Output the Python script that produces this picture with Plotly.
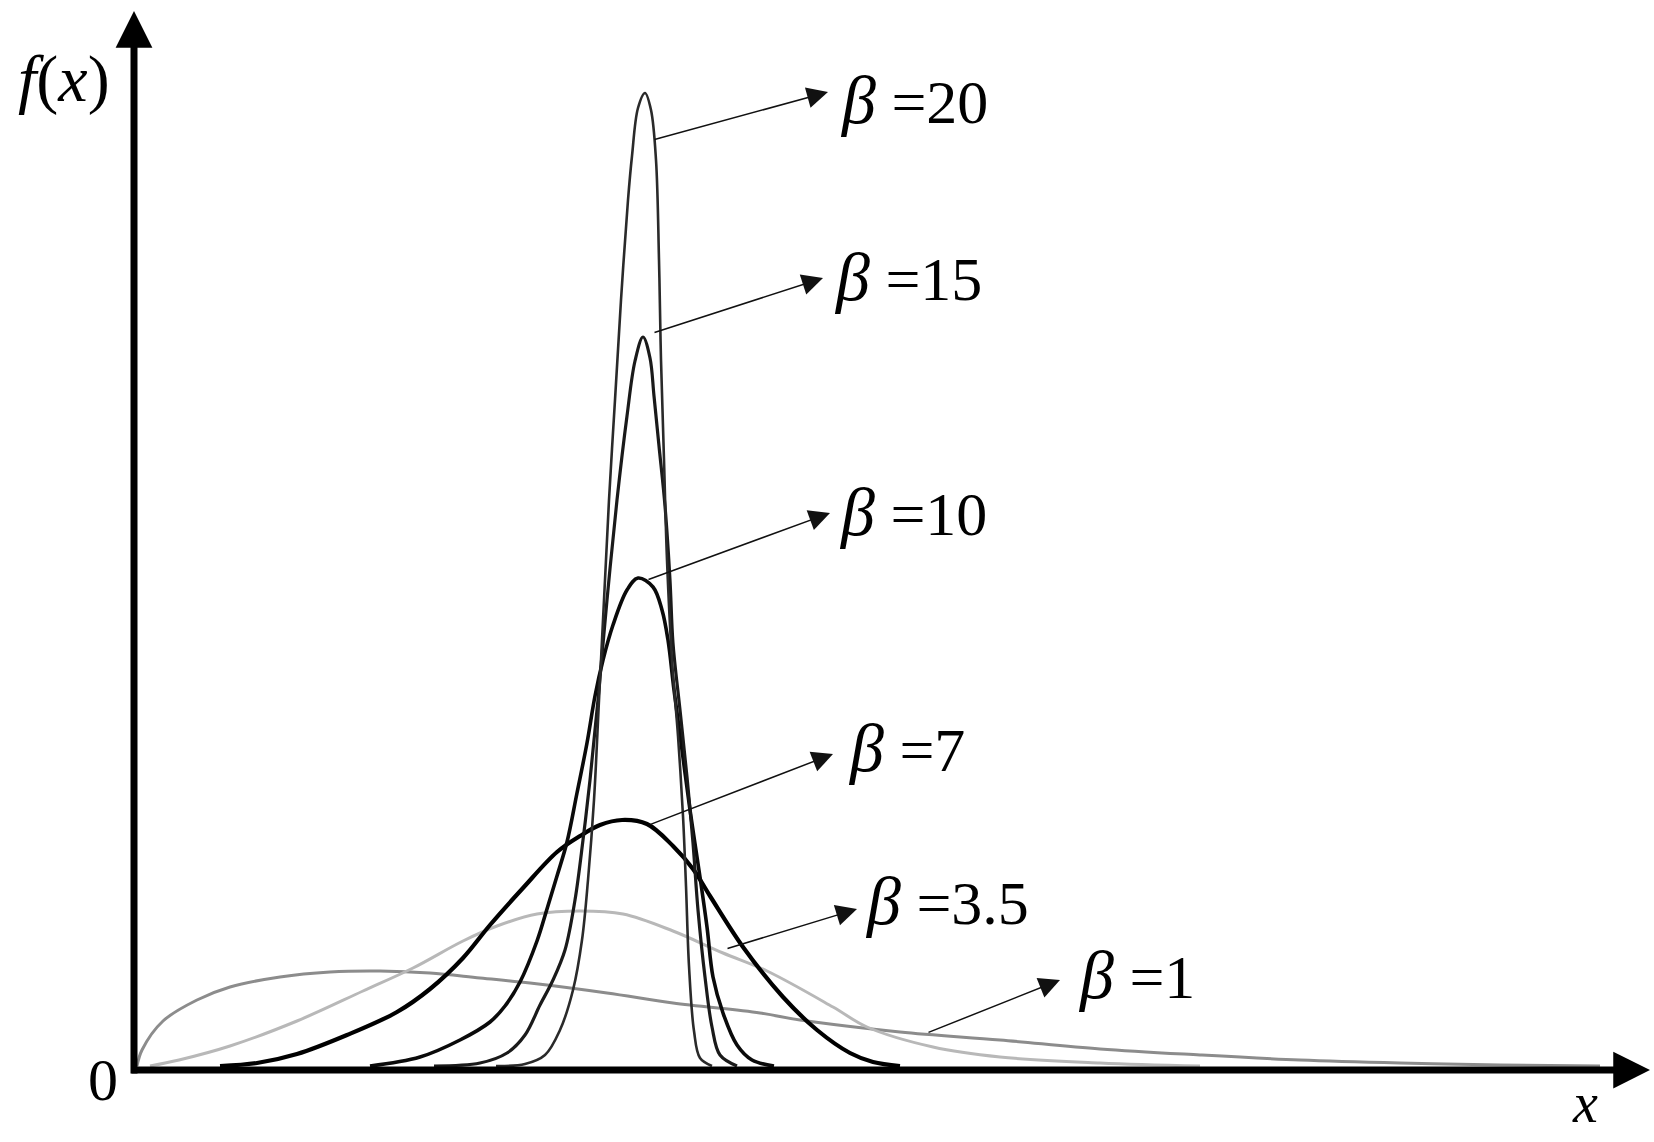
import plotly.graph_objects as go

# ---- data (x, f(x) in chart units) ----
beta_names = ["β", "β", "β", "β", "β", "β"]
beta_values = ["20", "15", "10", "7", "3.5", "1"]

x_b1 = [0.03, 0.08, 0.29, 0.63, 0.96, 1.46, 1.96, 2.46, 2.96, 3.46, 3.96, 4.73, 5.39, 6.26, 6.66,
        7.66, 8.66, 9.66, 10.66, 11.66, 12.66, 13.66, 14.66]
y_b1 = [0.00, 0.16, 0.45, 0.66, 0.79, 0.89, 0.94, 0.95, 0.93, 0.88, 0.83, 0.73, 0.63, 0.53, 0.46,
        0.34, 0.26, 0.17, 0.11, 0.06, 0.03, 0.01, 0.00]

x_b35 = [0.16, 0.45, 0.96, 1.63, 2.29, 2.79, 3.29, 3.63, 4.03, 4.46, 4.89, 5.39, 5.89, 6.33, 6.99,
         7.33, 7.99, 8.66, 9.66, 10.66]
y_b35 = [0.00, 0.06, 0.20, 0.45, 0.75, 0.98, 1.25, 1.40, 1.52, 1.55, 1.52, 1.35, 1.13, 0.95, 0.59,
         0.39, 0.19, 0.09, 0.03, 0.00]

x_b7 = [0.86, 1.23, 1.63, 2.13, 2.63, 2.96, 3.29, 3.56, 3.89, 4.23, 4.46, 4.66, 4.88, 5.13, 5.39,
        5.59, 5.76, 6.09, 6.49, 6.83, 7.16, 7.39, 7.66]
y_b7 = [0.00, 0.03, 0.12, 0.31, 0.54, 0.77, 1.08, 1.41, 1.78, 2.14, 2.30, 2.41, 2.46, 2.42, 2.20,
        1.97, 1.70, 1.19, 0.69, 0.36, 0.13, 0.04, 0.00]

x_b10 = [2.36, 2.86, 3.26, 3.56, 3.71, 3.86, 4.03, 4.13, 4.23, 4.33, 4.43, 4.53, 4.61, 4.69, 4.79,
         4.93, 5.04, 5.19, 5.28, 5.34, 5.40, 5.48, 5.56, 5.66, 5.73, 5.79, 5.89, 6.03, 6.18, 6.40]
y_b10 = [0.00, 0.09, 0.26, 0.44, 0.60, 0.84, 1.25, 1.57, 1.90, 2.24, 2.73, 3.23, 3.70, 4.06, 4.41,
         4.76, 4.88, 4.79, 4.56, 4.26, 3.76, 3.16, 2.56, 1.89, 1.39, 0.89, 0.53, 0.21, 0.06, 0.00]

x_b15 = [3.00, 3.46, 3.73, 3.91, 4.06, 4.19, 4.31, 4.41, 4.49, 4.56, 4.64, 4.73, 4.83, 4.93, 5.01,
         5.09, 5.16, 5.20, 5.25, 5.31, 5.36, 5.39, 5.46, 5.53, 5.59, 5.64, 5.71, 5.78, 5.86, 6.03]
y_b15 = [0.00, 0.03, 0.13, 0.31, 0.61, 0.86, 1.16, 1.66, 2.26, 2.86, 3.66, 4.66, 5.66, 6.50, 7.05,
         7.29, 7.08, 6.70, 6.20, 5.60, 4.86, 4.23, 3.56, 2.89, 2.23, 1.56, 0.89, 0.39, 0.11, 0.00]

x_b20 = [3.62, 3.91, 4.11, 4.26, 4.39, 4.48, 4.54, 4.60, 4.65, 4.70, 4.75, 4.81, 4.87, 4.94, 4.98,
         5.04, 5.11, 5.17, 5.22, 5.25, 5.27, 5.30, 5.33, 5.38, 5.44, 5.49, 5.52, 5.55, 5.60, 5.66, 5.78]
y_b20 = [0.00, 0.02, 0.11, 0.36, 0.76, 1.26, 1.86, 2.66, 3.66, 4.66, 5.66, 6.66, 7.66, 8.66, 9.10,
         9.58, 9.73, 9.56, 9.06, 8.06, 7.06, 6.06, 5.06, 4.06, 3.30, 2.50, 1.80, 1.00, 0.35, 0.08, 0.00]

# annotation anchor points (curve point -> arrow tip -> label left edge / centre height)
arrow_start_x = [5.19, 5.19, 5.13, 5.15, 5.92, 7.93]
arrow_start_y = [9.26, 7.33, 4.86, 2.41, 1.17, 0.33]
arrow_tip_x = [6.94, 6.89, 6.96, 6.99, 7.23, 9.26]
arrow_tip_y = [9.74, 7.88, 5.53, 3.12, 1.57, 0.86]
label_x = [7.04, 6.98, 7.03, 7.12, 7.29, 9.42]
label_y = [9.66, 7.89, 5.54, 3.18, 1.65, 0.91]

SERIF = "Liberation Serif, Times New Roman, serif"

series = [
    (x_b1, y_b1, "#8c8c8c", 3.0),
    (x_b35, y_b35, "#b8b8b8", 3.0),
    (x_b7, y_b7, "#000000", 4.2),
    (x_b10, y_b10, "#0a0a0a", 3.6),
    (x_b15, y_b15, "#1a1a1a", 3.2),
    (x_b20, y_b20, "#2a2a2a", 2.6),
]

fig = go.Figure()
for xs, ys, col, w in series:
    fig.add_trace(go.Scatter(x=xs, y=ys, mode="lines",
                             line=dict(color=col, width=w, shape="spline", smoothing=1.0),
                             showlegend=False, hoverinfo="skip"))

annotations = []
for i in range(len(beta_values)):
    txt = ('<span style="font-size:68px"><i>' + beta_names[i] + '</i></span>'
           ' =' + beta_values[i])
    annotations.append(dict(x=label_x[i], y=label_y[i], xref="x", yref="y", text=txt,
                            xanchor="left", yanchor="middle",
                            showarrow=False, font=dict(family=SERIF, size=62, color="black")))
    annotations.append(dict(x=arrow_tip_x[i], y=arrow_tip_y[i], xref="x", yref="y",
                            ax=arrow_start_x[i], ay=arrow_start_y[i], axref="x", ayref="y",
                            text="", showarrow=True, arrowhead=2, arrowsize=2.8,
                            arrowwidth=1.5, arrowcolor="#111111"))

# axes with arrow heads
annotations.append(dict(x=0, y=10.55, xref="x", yref="y", ax=0, ay=-0.09, axref="x", ayref="y",
                        text="", showarrow=True, arrowhead=2, arrowsize=1.05, arrowwidth=7,
                        arrowcolor="black"))
annotations.append(dict(x=15.16, y=-0.04, xref="x", yref="y", ax=-0.04, ay=-0.04, axref="x",
                        ayref="y", text="", showarrow=True, arrowhead=2, arrowsize=1.05,
                        arrowwidth=7, arrowcolor="black"))
annotations.append(dict(x=-0.70, y=9.87, xref="x", yref="y", text="<i>f</i>(<i>x</i>)",
                        showarrow=False, font=dict(family=SERIF, size=66, color="black")))
annotations.append(dict(x=-0.31, y=-0.14, xref="x", yref="y", text="0",
                        showarrow=False, font=dict(family=SERIF, size=60, color="black")))
annotations.append(dict(x=14.51, y=-0.37, xref="x", yref="y", text="<i>x</i>",
                        showarrow=False, font=dict(family=SERIF, size=56, color="black")))

fig.update_layout(
    width=1654, height=1142,
    margin=dict(l=0, r=0, t=0, b=0),
    paper_bgcolor="white", plot_bgcolor="white",
    xaxis=dict(range=[-1.34, 15.20], visible=False, fixedrange=True),
    yaxis=dict(range=[-0.76, 10.66], visible=False, fixedrange=True),
    annotations=annotations,
    showlegend=False,
)

fig.write_html("out.html", config={"displayModeBar": False},
               post_script="document.body.style.margin='0';document.body.style.overflow='hidden';")
